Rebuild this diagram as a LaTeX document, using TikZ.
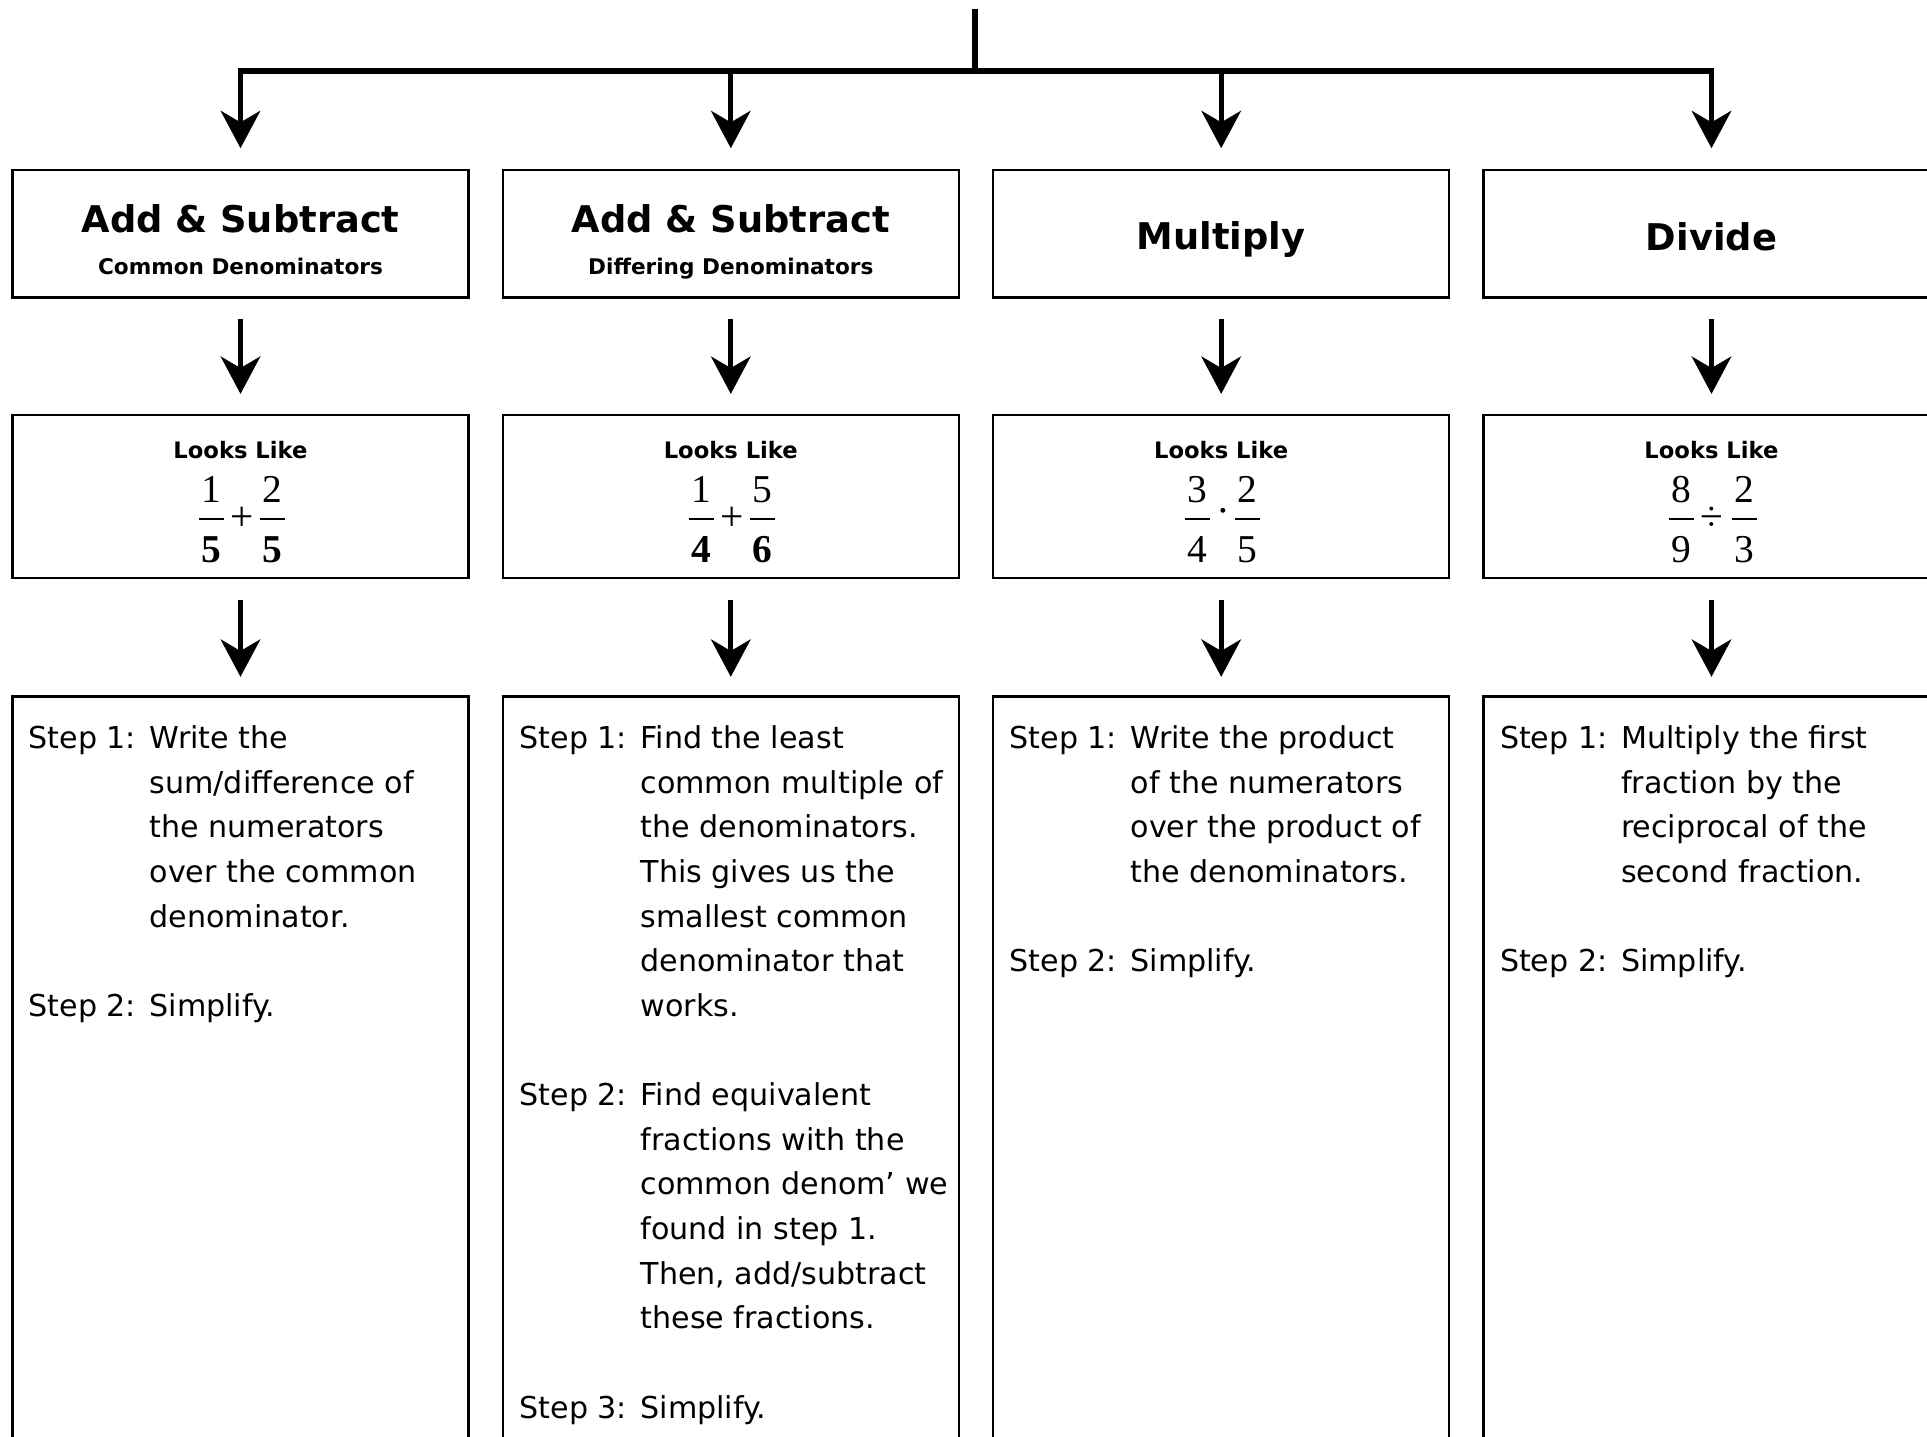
\documentclass[tikz,border=0pt]{standalone}
\usepackage{fontspec}
\newfontfamily\comic{DejaVu Sans}
\newfontfamily\tnr{Liberation Serif}
\usetikzlibrary{arrows.meta}
\newcommand\SL[1]{\makebox[45.4pt][l]{#1}}
\newcommand\frc[4]{%
  \node[fdig] (#1n) at (#2,503) {#3};
  \node[fdig] (#1d) at (#2,563) {#4};
  \draw[fbar] (#2-12.5,519) -- (#2+12.5,519);}
\tikzset{
  box/.style={draw, line width=0.94pt, minimum width=171pt, inner sep=0pt},
  ttlbox/.style={box, minimum height=47.8pt},
  lookbox/.style={box, minimum height=61.2pt},
  stepbox/.style={box, minimum height=285pt},
  arr/.style={line width=1.9pt, -{Stealth[length=14pt,width=14.8pt,inset=4.3pt]}},
  busline/.style={line width=2.1pt, line cap=rect},
  topline/.style={line width=2pt},
  ttl/.style={font=\comic\bfseries\fontsize{13.8}{16}\selectfont, anchor=base, inner sep=0pt},
  subttl/.style={font=\comic\bfseries\fontsize{8.1}{10}\selectfont, anchor=base, inner sep=0pt},
  looks/.style={font=\comic\bfseries\fontsize{8.5}{10}\selectfont, anchor=base, inner sep=0pt},
  fdig/.style={font=\tnr\fontsize{14.8}{16}\selectfont, anchor=base, inner sep=0pt},
  fop/.style={font=\tnr\fontsize{15.5}{16}\selectfont, anchor=center, inner sep=0pt},
  fbar/.style={line width=0.6pt},
  steps/.style={font=\comic\fontsize{11.3}{16.74}\selectfont, anchor=base west, inner sep=0pt},
}
\begin{document}
\begin{tikzpicture}[x=0.375pt,y=-0.375pt]
\useasboundingbox (0,0) rectangle (1927,1437);
\clip (0,0) rectangle (1927,1437);
\fill[white] (0,0) rectangle (1927,1437);

% boxes
\foreach \i/\cx in {1/240.5,2/730.8,3/1221.2,4/1711.5}{
  \node[ttlbox] (t\i) at (\cx,233.75) {};
  \node[lookbox] (l\i) at (\cx,496.5) {};
  \node[stepbox] (s\i) at (\cx,1076.5) {};
  \coordinate (b\i) at (\cx,71);
}

% top connector
\coordinate (top) at (975,9.3);
\coordinate (hub) at (975,71);
\draw[topline] (top) -- (hub);
\draw[busline] (b1) -- (b4);
\foreach \i in {1,...,4}{
  \draw[arr, shorten >=7.7pt] (b\i) -- (t\i.north);
  \draw[arr, shorten <=7.5pt, shorten >=7.4pt] (t\i.south) -- (l\i.north);
  \draw[arr, shorten <=7.7pt, shorten >=6.9pt] (l\i.south) -- (s\i.north);
}

% titles
\node[ttl] (h1) at (240.5,233) {Add \& Subtract};
\node[subttl] (h1s) at (240.5,275) {Common Denominators};
\node[ttl] (h2) at (730.8,233) {Add \& Subtract};
\node[subttl] (h2s) at (730.8,275) {Differing Denominators};
\node[ttl] (h3) at (1221.2,250) {Multiply};
\node[ttl] (h4) at (1711.5,251) {Divide};

% looks like
\foreach \i/\cx in {1/240.5,2/730.8,3/1221.2,4/1711.5}{
  \node[looks] (ll\i) at (\cx,459) {Looks Like};
}

% fractions
\frc{fa}{211}{1}{\bfseries 5}
\node[fop] (opa) at (242,519) {+};
\frc{fb}{272}{2}{\bfseries 5}

\frc{fc}{701.3}{1}{\bfseries 4}
\node[fop] (opb) at (732.3,519) {+};
\frc{fd}{762.3}{5}{\bfseries 6}

\frc{fe}{1197.5}{3}{4}
\node[fop] (opc) at (1223,516) {·};
\frc{ff}{1247.5}{2}{5}

\frc{fg}{1681}{8}{9}
\node[fop] (opd) at (1712,519) {÷};
\frc{fh}{1744}{2}{3}

% steps
\node[steps] (st1) at (28,748.5) {\begin{tabular}[t]{@{}l@{}}
\SL{Step 1:}Write the\\
\SL{}sum/difference of\\
\SL{}the numerators\\
\SL{}over the common\\
\SL{}denominator.\\
\\
\SL{Step 2:}Simplify.
\end{tabular}};

\node[steps] (st2) at (519,748.5) {\begin{tabular}[t]{@{}l@{}}
\SL{Step 1:}Find the least\\
\SL{}common multiple of\\
\SL{}the denominators.\\
\SL{}This gives us the\\
\SL{}smallest common\\
\SL{}denominator that\\
\SL{}works.\\
\\
\SL{Step 2:}Find equivalent\\
\SL{}fractions with the\\
\SL{}common denom’ we\\
\SL{}found in step 1.\\
\SL{}Then, add/subtract\\
\SL{}these fractions.\\
\\
\SL{Step 3:}Simplify.
\end{tabular}};

\node[steps] (st3) at (1009,748.5) {\begin{tabular}[t]{@{}l@{}}
\SL{Step 1:}Write the product\\
\SL{}of the numerators\\
\SL{}over the product of\\
\SL{}the denominators.\\
\\
\SL{Step 2:}Simplify.
\end{tabular}};

\node[steps] (st4) at (1499.5,748.5) {\begin{tabular}[t]{@{}l@{}}
\SL{Step 1:}Multiply the first\\
\SL{}fraction by the\\
\SL{}reciprocal of the\\
\SL{}second fraction.\\
\\
\SL{Step 2:}Simplify.
\end{tabular}};
\end{tikzpicture}
\end{document}
